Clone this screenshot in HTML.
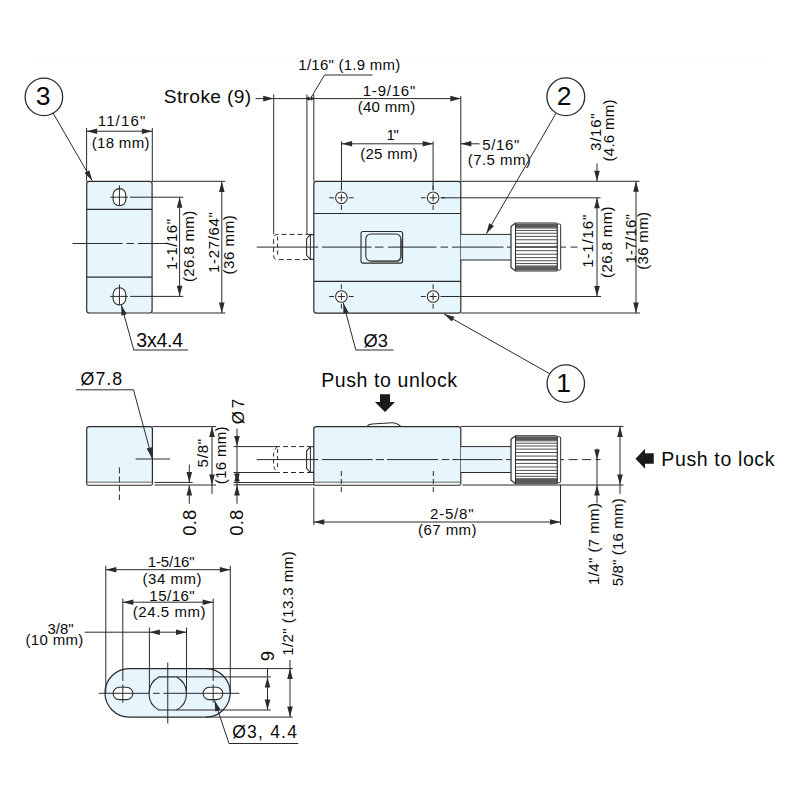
<!DOCTYPE html>
<html><head><meta charset="utf-8"><style>
html,body{margin:0;padding:0;background:#fff;width:800px;height:800px;overflow:hidden}
svg{display:block}
text{font-family:"Liberation Sans",sans-serif;fill:#0a0a0a}
</style></head><body>
<svg width="800" height="800" viewBox="0 0 800 800">
<rect width="800" height="800" fill="#fff"/>
<rect x="86.7" y="181.3" width="65.4" height="131.7" rx="2.5" fill="#e7f5fd" stroke="#2b2b2b" stroke-width="1.2"/>
<line x1="86.70" y1="209.30" x2="152.10" y2="209.30" stroke="#2b2b2b" stroke-width="1.2"/>
<line x1="86.70" y1="277.10" x2="152.10" y2="277.10" stroke="#2b2b2b" stroke-width="1.2"/>
<path d="M113.1,194.95 A6.35,6.35 0 0 1 125.8,194.95 V199.45 A6.35,6.35 0 0 1 113.1,199.45 Z" fill="#fff" stroke="#2b2b2b" stroke-width="1.1"/>
<line x1="119.45" y1="185.40" x2="119.45" y2="205.70" stroke="#2b2b2b" stroke-width="1.0"/>
<line x1="110.25" y1="197.20" x2="127.90" y2="197.20" stroke="#2b2b2b" stroke-width="1.0"/>
<line x1="130.00" y1="197.20" x2="183.30" y2="197.20" stroke="#2b2b2b" stroke-width="1.0"/>
<path d="M113.1,294.15 A6.35,6.35 0 0 1 125.8,294.15 V298.65 A6.35,6.35 0 0 1 113.1,298.65 Z" fill="#fff" stroke="#2b2b2b" stroke-width="1.1"/>
<line x1="119.45" y1="284.60" x2="119.45" y2="304.90" stroke="#2b2b2b" stroke-width="1.0"/>
<line x1="110.25" y1="296.40" x2="127.90" y2="296.40" stroke="#2b2b2b" stroke-width="1.0"/>
<line x1="130.00" y1="296.40" x2="183.30" y2="296.40" stroke="#2b2b2b" stroke-width="1.0"/>
<line x1="72.50" y1="243.50" x2="122.70" y2="243.50" stroke="#2b2b2b" stroke-width="1.0"/>
<line x1="126.50" y1="243.50" x2="134.00" y2="243.50" stroke="#2b2b2b" stroke-width="1.0"/>
<line x1="137.75" y1="243.50" x2="167.00" y2="243.50" stroke="#2b2b2b" stroke-width="1.0"/>
<line x1="86.60" y1="128.00" x2="86.60" y2="181.30" stroke="#2b2b2b" stroke-width="1.0"/>
<line x1="152.30" y1="128.00" x2="152.30" y2="181.30" stroke="#2b2b2b" stroke-width="1.0"/>
<line x1="86.60" y1="131.20" x2="152.30" y2="131.20" stroke="#2b2b2b" stroke-width="1.0"/>
<polygon points="86.60,131.20 97.10,128.40 97.10,134.00" fill="#2b2b2b"/>
<polygon points="152.30,131.20 141.80,134.00 141.80,128.40" fill="#2b2b2b"/>
<text x="121.50" y="125.50" font-size="15" text-anchor="middle" textLength="47.5" lengthAdjust="spacing">11/16&quot;</text>
<text x="120.60" y="147.50" font-size="15" text-anchor="middle" textLength="57.7" lengthAdjust="spacing">(18 mm)</text>
<line x1="179.60" y1="197.20" x2="179.60" y2="296.20" stroke="#2b2b2b" stroke-width="1.0"/>
<polygon points="179.60,197.20 182.40,207.70 176.80,207.70" fill="#2b2b2b"/>
<polygon points="179.60,296.20 176.80,285.70 182.40,285.70" fill="#2b2b2b"/>
<text transform="translate(176.50,244.50) rotate(-90)" x="0" y="0" font-size="15" text-anchor="middle" textLength="51" lengthAdjust="spacing">1-1/16&quot;</text>
<text transform="translate(193.80,246.40) rotate(-90)" x="0" y="0" font-size="15" text-anchor="middle" textLength="71.2" lengthAdjust="spacing">(26.8 mm)</text>
<line x1="152.10" y1="181.30" x2="225.30" y2="181.30" stroke="#2b2b2b" stroke-width="1.0"/>
<line x1="152.10" y1="313.00" x2="225.30" y2="313.00" stroke="#2b2b2b" stroke-width="1.0"/>
<line x1="221.80" y1="181.50" x2="221.80" y2="313.00" stroke="#2b2b2b" stroke-width="1.0"/>
<polygon points="221.80,181.50 224.60,192.00 219.00,192.00" fill="#2b2b2b"/>
<polygon points="221.80,313.00 219.00,302.50 224.60,302.50" fill="#2b2b2b"/>
<text transform="translate(218.50,242.60) rotate(-90)" x="0" y="0" font-size="15" text-anchor="middle" textLength="60.8" lengthAdjust="spacing">1-27/64&quot;</text>
<text transform="translate(234.30,244.90) rotate(-90)" x="0" y="0" font-size="15" text-anchor="middle" textLength="59.2" lengthAdjust="spacing">(36 mm)</text>
<circle cx="43.9" cy="96.9" r="18.75" fill="none" stroke="#2b2b2b" stroke-width="1.3"/>
<text x="43.20" y="104.70" font-size="26.5" text-anchor="middle">3</text>
<line x1="52.80" y1="112.60" x2="92.20" y2="180.70" stroke="#2b2b2b" stroke-width="1.0"/>
<polygon points="92.20,180.70 84.52,173.01 89.37,170.21" fill="#2b2b2b"/>
<line x1="121.30" y1="305.00" x2="133.80" y2="350.00" stroke="#2b2b2b" stroke-width="1.0"/>
<polygon points="121.30,305.00 126.81,314.37 121.41,315.87" fill="#2b2b2b"/>
<line x1="133.80" y1="350.00" x2="188.10" y2="350.00" stroke="#2b2b2b" stroke-width="1.0"/>
<text x="136.30" y="346.90" font-size="19.5" text-anchor="start" textLength="46.8" lengthAdjust="spacing">3x4.4</text>
<rect x="313.8" y="181.3" width="147" height="131.8" rx="2.5" fill="#e7f5fd" stroke="#2b2b2b" stroke-width="1.2"/>
<line x1="313.80" y1="213.50" x2="460.80" y2="213.50" stroke="#2b2b2b" stroke-width="1.2"/>
<line x1="313.80" y1="281.30" x2="460.80" y2="281.30" stroke="#2b2b2b" stroke-width="1.2"/>
<circle cx="341.4" cy="197.8" r="6.7" fill="#fff"/>
<circle cx="341.4" cy="197.8" r="5.8" fill="none" stroke="#2b2b2b" stroke-width="1.1"/>
<line x1="337.80" y1="197.80" x2="345.00" y2="197.80" stroke="#2b2b2b" stroke-width="1.0"/>
<line x1="341.40" y1="194.20" x2="341.40" y2="201.40" stroke="#2b2b2b" stroke-width="1.0"/>
<line x1="329.20" y1="197.80" x2="334.00" y2="197.80" stroke="#2b2b2b" stroke-width="1.0"/>
<line x1="348.80" y1="197.80" x2="353.60" y2="197.80" stroke="#2b2b2b" stroke-width="1.0"/>
<line x1="341.40" y1="185.60" x2="341.40" y2="190.40" stroke="#2b2b2b" stroke-width="1.0"/>
<line x1="341.40" y1="205.20" x2="341.40" y2="210.00" stroke="#2b2b2b" stroke-width="1.0"/>
<circle cx="341.4" cy="296.5" r="6.7" fill="#fff"/>
<circle cx="341.4" cy="296.5" r="5.8" fill="none" stroke="#2b2b2b" stroke-width="1.1"/>
<line x1="337.80" y1="296.50" x2="345.00" y2="296.50" stroke="#2b2b2b" stroke-width="1.0"/>
<line x1="341.40" y1="292.90" x2="341.40" y2="300.10" stroke="#2b2b2b" stroke-width="1.0"/>
<line x1="329.20" y1="296.50" x2="334.00" y2="296.50" stroke="#2b2b2b" stroke-width="1.0"/>
<line x1="348.80" y1="296.50" x2="353.60" y2="296.50" stroke="#2b2b2b" stroke-width="1.0"/>
<line x1="341.40" y1="284.30" x2="341.40" y2="289.10" stroke="#2b2b2b" stroke-width="1.0"/>
<line x1="341.40" y1="303.90" x2="341.40" y2="308.70" stroke="#2b2b2b" stroke-width="1.0"/>
<circle cx="433.1" cy="197.8" r="6.7" fill="#fff"/>
<circle cx="433.1" cy="197.8" r="5.8" fill="none" stroke="#2b2b2b" stroke-width="1.1"/>
<line x1="429.50" y1="197.80" x2="436.70" y2="197.80" stroke="#2b2b2b" stroke-width="1.0"/>
<line x1="433.10" y1="194.20" x2="433.10" y2="201.40" stroke="#2b2b2b" stroke-width="1.0"/>
<line x1="420.90" y1="197.80" x2="425.70" y2="197.80" stroke="#2b2b2b" stroke-width="1.0"/>
<line x1="440.50" y1="197.80" x2="445.30" y2="197.80" stroke="#2b2b2b" stroke-width="1.0"/>
<line x1="433.10" y1="185.60" x2="433.10" y2="190.40" stroke="#2b2b2b" stroke-width="1.0"/>
<line x1="433.10" y1="205.20" x2="433.10" y2="210.00" stroke="#2b2b2b" stroke-width="1.0"/>
<circle cx="433.1" cy="296.5" r="6.7" fill="#fff"/>
<circle cx="433.1" cy="296.5" r="5.8" fill="none" stroke="#2b2b2b" stroke-width="1.1"/>
<line x1="429.50" y1="296.50" x2="436.70" y2="296.50" stroke="#2b2b2b" stroke-width="1.0"/>
<line x1="433.10" y1="292.90" x2="433.10" y2="300.10" stroke="#2b2b2b" stroke-width="1.0"/>
<line x1="420.90" y1="296.50" x2="425.70" y2="296.50" stroke="#2b2b2b" stroke-width="1.0"/>
<line x1="440.50" y1="296.50" x2="445.30" y2="296.50" stroke="#2b2b2b" stroke-width="1.0"/>
<line x1="433.10" y1="284.30" x2="433.10" y2="289.10" stroke="#2b2b2b" stroke-width="1.0"/>
<line x1="433.10" y1="303.90" x2="433.10" y2="308.70" stroke="#2b2b2b" stroke-width="1.0"/>
<rect x="361" y="231.5" width="41.6" height="31.6" rx="2" fill="none" stroke="#2b2b2b" stroke-width="1.1"/>
<rect x="365.8" y="234" width="35" height="27" rx="5" fill="none" stroke="#2b2b2b" stroke-width="1.1"/>
<path d="M370.5,261.5 H396 Q400.8,261.5 401.2,256.5 V239" fill="none" stroke="#555" stroke-width="1.4"/>
<rect x="460.8" y="234.4" width="50.6" height="25.6" fill="#e7f5fd" stroke="none"/>
<line x1="460.80" y1="234.40" x2="511.40" y2="234.40" stroke="#2b2b2b" stroke-width="1.0"/>
<line x1="460.80" y1="260.00" x2="511.40" y2="260.00" stroke="#2b2b2b" stroke-width="1.0"/>
<line x1="256.75" y1="247.10" x2="318.25" y2="247.10" stroke="#2b2b2b" stroke-width="1.0"/>
<line x1="322.00" y1="247.10" x2="371.50" y2="247.10" stroke="#2b2b2b" stroke-width="1.0"/>
<line x1="375.00" y1="247.10" x2="383.50" y2="247.10" stroke="#2b2b2b" stroke-width="1.0"/>
<line x1="388.00" y1="247.10" x2="436.50" y2="247.10" stroke="#2b2b2b" stroke-width="1.0"/>
<line x1="440.50" y1="247.10" x2="448.00" y2="247.10" stroke="#2b2b2b" stroke-width="1.0"/>
<line x1="452.00" y1="247.10" x2="503.50" y2="247.10" stroke="#2b2b2b" stroke-width="1.0"/>
<line x1="507.00" y1="247.10" x2="512.00" y2="247.10" stroke="#2b2b2b" stroke-width="1.0"/>
<line x1="561.00" y1="247.10" x2="566.00" y2="247.10" stroke="#2b2b2b" stroke-width="1.0"/>
<line x1="570.50" y1="247.10" x2="577.50" y2="247.10" stroke="#2b2b2b" stroke-width="1.0"/>
<path d="M310.5,234.4 H277.5 Q273.6,234.4 273.6,238.4 V255.6 Q273.6,259.6 277.5,259.6 H310.5" fill="none" stroke="#2b2b2b" stroke-width="1" stroke-dasharray="5,3"/>
<path d="M313.8,234.6 H310.3 L306.6,238.6 V255.4 L310.3,259.4 H313.8" fill="none" stroke="#2b2b2b" stroke-width="1.1"/>
<line x1="310.40" y1="235.00" x2="310.40" y2="259.00" stroke="#2b2b2b" stroke-width="1.0"/>
<line x1="277.60" y1="236.50" x2="277.60" y2="257.50" stroke="#2b2b2b" stroke-width="1.0" stroke-dasharray="4,3"/>
<line x1="273.70" y1="94.50" x2="273.70" y2="234.40" stroke="#2b2b2b" stroke-width="1.0"/>
<line x1="306.90" y1="94.50" x2="306.90" y2="234.40" stroke="#2b2b2b" stroke-width="1.0"/>
<line x1="313.80" y1="94.50" x2="313.80" y2="181.30" stroke="#2b2b2b" stroke-width="1.0"/>
<line x1="460.80" y1="96.00" x2="460.80" y2="181.30" stroke="#2b2b2b" stroke-width="1.0"/>
<line x1="255.50" y1="98.60" x2="460.80" y2="98.60" stroke="#2b2b2b" stroke-width="1.0"/>
<polygon points="273.70,98.60 263.20,101.40 263.20,95.80" fill="#2b2b2b"/>
<polygon points="305.20,98.60 309.20,96.40 309.20,100.80" fill="#2b2b2b"/>
<polygon points="314.80,98.60 310.80,100.80 310.80,96.40" fill="#2b2b2b"/>
<polygon points="311.50,98.80 308.50,100.60 308.50,97.00" fill="#2b2b2b"/>
<polygon points="460.80,98.60 450.30,101.40 450.30,95.80" fill="#2b2b2b"/>
<text x="207.50" y="102.50" font-size="19.2" text-anchor="middle" textLength="87.5" lengthAdjust="spacing">Stroke (9)</text>
<line x1="311.00" y1="97.70" x2="324.50" y2="75.00" stroke="#2b2b2b" stroke-width="1.0"/>
<line x1="324.50" y1="75.00" x2="372.50" y2="75.00" stroke="#2b2b2b" stroke-width="1.0"/>
<text x="349.30" y="70.00" font-size="15" text-anchor="middle" textLength="102" lengthAdjust="spacing">1/16&quot; (1.9 mm)</text>
<text x="389.00" y="95.80" font-size="15" text-anchor="middle" textLength="52.5" lengthAdjust="spacing">1-9/16&quot;</text>
<text x="386.50" y="112.00" font-size="15" text-anchor="middle" textLength="57.7" lengthAdjust="spacing">(40 mm)</text>
<line x1="341.50" y1="141.30" x2="341.50" y2="190.00" stroke="#2b2b2b" stroke-width="1.0"/>
<line x1="433.10" y1="141.30" x2="433.10" y2="190.00" stroke="#2b2b2b" stroke-width="1.0"/>
<line x1="341.60" y1="143.80" x2="433.10" y2="143.80" stroke="#2b2b2b" stroke-width="1.0"/>
<polygon points="341.60,143.80 352.10,141.00 352.10,146.60" fill="#2b2b2b"/>
<polygon points="433.10,143.80 422.60,146.60 422.60,141.00" fill="#2b2b2b"/>
<text x="392.60" y="140.40" font-size="15" text-anchor="middle" textLength="12.4" lengthAdjust="spacing">1&quot;</text>
<text x="389.00" y="158.70" font-size="15" text-anchor="middle" textLength="57.7" lengthAdjust="spacing">(25 mm)</text>
<line x1="460.80" y1="143.80" x2="479.60" y2="143.80" stroke="#2b2b2b" stroke-width="1.0"/>
<polygon points="460.80,143.80 471.30,141.00 471.30,146.60" fill="#2b2b2b"/>
<text x="500.80" y="150.30" font-size="15" text-anchor="middle" textLength="37.3" lengthAdjust="spacing">5/16&quot;</text>
<text x="499.30" y="164.50" font-size="15" text-anchor="middle" textLength="63" lengthAdjust="spacing">(7.5 mm)</text>
<path d="M511,226.5 L515.5,223 H556 Q557.5,223 557.5,225 V269 Q557.5,271 556,271 H515.5 L511,267.5 Z" fill="#fff" stroke="#2b2b2b" stroke-width="1.2"/>
<line x1="515.50" y1="224.75" x2="557.00" y2="224.75" stroke="#505050" stroke-width="1.0"/>
<line x1="515.50" y1="226.15" x2="557.00" y2="226.15" stroke="#505050" stroke-width="1.0"/>
<line x1="515.50" y1="228.07" x2="557.00" y2="228.07" stroke="#505050" stroke-width="1.0"/>
<line x1="515.50" y1="230.45" x2="557.00" y2="230.45" stroke="#505050" stroke-width="1.0"/>
<line x1="515.50" y1="233.25" x2="557.00" y2="233.25" stroke="#505050" stroke-width="1.0"/>
<line x1="515.50" y1="236.38" x2="557.00" y2="236.38" stroke="#505050" stroke-width="1.0"/>
<line x1="515.50" y1="239.77" x2="557.00" y2="239.77" stroke="#505050" stroke-width="1.0"/>
<line x1="515.50" y1="243.34" x2="557.00" y2="243.34" stroke="#505050" stroke-width="1.0"/>
<line x1="515.50" y1="247.00" x2="557.00" y2="247.00" stroke="#505050" stroke-width="1.0"/>
<line x1="515.50" y1="250.66" x2="557.00" y2="250.66" stroke="#505050" stroke-width="1.0"/>
<line x1="515.50" y1="254.23" x2="557.00" y2="254.23" stroke="#505050" stroke-width="1.0"/>
<line x1="515.50" y1="257.62" x2="557.00" y2="257.62" stroke="#505050" stroke-width="1.0"/>
<line x1="515.50" y1="260.75" x2="557.00" y2="260.75" stroke="#505050" stroke-width="1.0"/>
<line x1="515.50" y1="263.55" x2="557.00" y2="263.55" stroke="#505050" stroke-width="1.0"/>
<line x1="515.50" y1="265.93" x2="557.00" y2="265.93" stroke="#505050" stroke-width="1.0"/>
<line x1="515.50" y1="267.85" x2="557.00" y2="267.85" stroke="#505050" stroke-width="1.0"/>
<line x1="515.50" y1="269.25" x2="557.00" y2="269.25" stroke="#505050" stroke-width="1.0"/>
<rect x="515.5" y="223.6" width="41.5" height="4.2" fill="#5a5a5a"/>
<rect x="515.5" y="266.2" width="41.5" height="4.2" fill="#5a5a5a"/>
<line x1="515.50" y1="247.00" x2="557.00" y2="247.00" stroke="#444" stroke-width="1.6"/>
<line x1="515.50" y1="223.00" x2="515.50" y2="271.00" stroke="#2b2b2b" stroke-width="1"/>
<rect x="557.3" y="224" width="3.4" height="46" rx="1.2" fill="#fff" stroke="#2b2b2b" stroke-width="1"/>
<circle cx="565.8" cy="96.8" r="18.9" fill="none" stroke="#2b2b2b" stroke-width="1.3"/>
<text x="564.20" y="105.40" font-size="26.5" text-anchor="middle">2</text>
<line x1="556.00" y1="113.30" x2="486.30" y2="233.70" stroke="#2b2b2b" stroke-width="1.0"/>
<polygon points="486.30,233.70 489.14,223.21 493.98,226.02" fill="#2b2b2b"/>
<circle cx="565.8" cy="383.6" r="18.75" fill="none" stroke="#2b2b2b" stroke-width="1.3"/>
<text x="563.50" y="392.00" font-size="26.5" text-anchor="middle">1</text>
<line x1="549.40" y1="373.60" x2="444.00" y2="314.00" stroke="#2b2b2b" stroke-width="1.0"/>
<polygon points="444.00,314.00 454.52,316.73 451.76,321.61" fill="#2b2b2b"/>
<line x1="460.80" y1="181.30" x2="639.50" y2="181.30" stroke="#2b2b2b" stroke-width="1.0"/>
<line x1="441.00" y1="197.80" x2="600.50" y2="197.80" stroke="#2b2b2b" stroke-width="1.0"/>
<line x1="441.00" y1="296.50" x2="601.00" y2="296.50" stroke="#2b2b2b" stroke-width="1.0"/>
<line x1="460.80" y1="313.00" x2="640.00" y2="313.00" stroke="#2b2b2b" stroke-width="1.0"/>
<line x1="597.00" y1="163.50" x2="597.00" y2="181.30" stroke="#2b2b2b" stroke-width="1.0"/>
<polygon points="597.00,181.30 594.20,170.80 599.80,170.80" fill="#2b2b2b"/>
<line x1="597.00" y1="197.70" x2="597.00" y2="296.40" stroke="#2b2b2b" stroke-width="1.0"/>
<polygon points="597.00,197.70 599.80,208.20 594.20,208.20" fill="#2b2b2b"/>
<polygon points="597.00,296.40 594.20,285.90 599.80,285.90" fill="#2b2b2b"/>
<line x1="636.00" y1="181.30" x2="636.00" y2="313.00" stroke="#2b2b2b" stroke-width="1.0"/>
<polygon points="636.00,181.30 638.80,191.80 633.20,191.80" fill="#2b2b2b"/>
<polygon points="636.00,313.00 633.20,302.50 638.80,302.50" fill="#2b2b2b"/>
<text transform="translate(601.20,132.20) rotate(-90)" x="0" y="0" font-size="15" text-anchor="middle" textLength="37.5" lengthAdjust="spacing">3/16&quot;</text>
<text transform="translate(614.00,130.50) rotate(-90)" x="0" y="0" font-size="15" text-anchor="middle" textLength="62" lengthAdjust="spacing">(4.6 mm)</text>
<text transform="translate(592.90,241.20) rotate(-90)" x="0" y="0" font-size="15" text-anchor="middle" textLength="53" lengthAdjust="spacing">1-1/16&quot;</text>
<text transform="translate(612.30,242.20) rotate(-90)" x="0" y="0" font-size="15" text-anchor="middle" textLength="71.5" lengthAdjust="spacing">(26.8 mm)</text>
<text transform="translate(635.60,238.80) rotate(-90)" x="0" y="0" font-size="15" text-anchor="middle" textLength="49.5" lengthAdjust="spacing">1-7/16&quot;</text>
<text transform="translate(648.20,240.90) rotate(-90)" x="0" y="0" font-size="15" text-anchor="middle" textLength="57.8" lengthAdjust="spacing">(36 mm)</text>
<line x1="343.30" y1="303.00" x2="355.80" y2="350.00" stroke="#2b2b2b" stroke-width="1.0"/>
<polygon points="343.30,303.00 348.70,312.43 343.29,313.87" fill="#2b2b2b"/>
<line x1="355.80" y1="350.00" x2="393.60" y2="350.00" stroke="#2b2b2b" stroke-width="1.0"/>
<text x="363.40" y="347.40" font-size="18.3" text-anchor="start" textLength="24.6" lengthAdjust="spacing">&#216;3</text>
<text x="321.20" y="387.00" font-size="19.5" text-anchor="start" textLength="135.8" lengthAdjust="spacing">Push to unlock</text>
<polygon points="380,394.2 390,394.2 390,402 395,402 385,412 375,402 380,402" fill="#1a1a1a"/>
<path d="M86.7,482.4 V429.1 Q86.7,426.6 89.2,426.6 H149.9 Q152.4,426.6 152.4,429.1 V482.4 Z" fill="#e7f5fd" stroke="#2b2b2b" stroke-width="1.2"/>
<path d="M86.7,482.4 V483.8 Q86.7,485.2 88,485.2 H151.1 Q152.4,485.2 152.4,483.8 V482.4" fill="#fff" stroke="#2b2b2b" stroke-width="1.1"/>
<line x1="152.40" y1="426.60" x2="216.00" y2="426.60" stroke="#2b2b2b" stroke-width="1.0"/>
<line x1="154.40" y1="482.40" x2="192.60" y2="482.40" stroke="#2b2b2b" stroke-width="1.0"/>
<line x1="154.40" y1="485.00" x2="216.00" y2="485.00" stroke="#2b2b2b" stroke-width="1.0"/>
<line x1="212.00" y1="426.60" x2="212.00" y2="494.00" stroke="#2b2b2b" stroke-width="1.0"/>
<polygon points="212.00,426.60 214.80,437.10 209.20,437.10" fill="#2b2b2b"/>
<polygon points="212.00,485.00 209.20,474.50 214.80,474.50" fill="#2b2b2b"/>
<line x1="189.30" y1="464.50" x2="189.30" y2="482.40" stroke="#2b2b2b" stroke-width="1.0"/>
<polygon points="189.30,482.40 186.50,471.90 192.10,471.90" fill="#2b2b2b"/>
<line x1="189.30" y1="485.00" x2="189.30" y2="503.70" stroke="#2b2b2b" stroke-width="1.0"/>
<polygon points="189.30,485.00 192.10,495.50 186.50,495.50" fill="#2b2b2b"/>
<line x1="135.60" y1="459.00" x2="170.00" y2="459.00" stroke="#2b2b2b" stroke-width="1.0"/>
<line x1="119.40" y1="467.40" x2="119.40" y2="500.00" stroke="#2b2b2b" stroke-width="1.0" stroke-dasharray="6,3"/>
<line x1="75.75" y1="389.80" x2="133.50" y2="389.80" stroke="#2b2b2b" stroke-width="1.0"/>
<line x1="133.50" y1="389.80" x2="152.00" y2="458.00" stroke="#2b2b2b" stroke-width="1.0"/>
<polygon points="152.00,458.00 146.55,448.60 151.95,447.13" fill="#2b2b2b"/>
<text x="80.60" y="385.00" font-size="17.8" text-anchor="start" textLength="41.5" lengthAdjust="spacing">&#216;7.8</text>
<text transform="translate(207.80,453.20) rotate(-90)" x="0" y="0" font-size="15" text-anchor="middle" textLength="28.8" lengthAdjust="spacing">5/8&quot;</text>
<text transform="translate(226.40,455.30) rotate(-90)" x="0" y="0" font-size="15" text-anchor="middle" textLength="57.7" lengthAdjust="spacing">(16 mm)</text>
<text transform="translate(195.60,522.80) rotate(-90)" x="0" y="0" font-size="18.5" text-anchor="middle" textLength="26" lengthAdjust="spacing">0.8</text>
<text transform="translate(243.10,522.80) rotate(-90)" x="0" y="0" font-size="18.5" text-anchor="middle" textLength="26" lengthAdjust="spacing">0.8</text>
<text transform="translate(243.90,411.50) rotate(-90)" x="0" y="0" font-size="17" text-anchor="middle" textLength="25.7" lengthAdjust="spacing">&#216; 7</text>
<line x1="237.00" y1="428.50" x2="237.00" y2="503.70" stroke="#2b2b2b" stroke-width="1.0"/>
<polygon points="237.00,446.60 234.20,436.10 239.80,436.10" fill="#2b2b2b"/>
<polygon points="237.00,472.40 239.80,481.40 234.20,481.40" fill="#2b2b2b"/>
<polygon points="237.00,482.50 234.20,473.50 239.80,473.50" fill="#2b2b2b"/>
<polygon points="237.00,485.00 239.80,495.50 234.20,495.50" fill="#2b2b2b"/>
<line x1="233.60" y1="446.60" x2="275.00" y2="446.60" stroke="#2b2b2b" stroke-width="1.0"/>
<line x1="233.60" y1="472.50" x2="275.00" y2="472.50" stroke="#2b2b2b" stroke-width="1.0"/>
<line x1="275.00" y1="446.60" x2="311.00" y2="446.60" stroke="#2b2b2b" stroke-width="1.0" stroke-dasharray="5,3"/>
<line x1="275.00" y1="472.50" x2="311.00" y2="472.50" stroke="#2b2b2b" stroke-width="1.0" stroke-dasharray="5,3"/>
<line x1="233.60" y1="482.50" x2="313.80" y2="482.50" stroke="#2b2b2b" stroke-width="1.0"/>
<line x1="233.60" y1="484.80" x2="313.80" y2="484.80" stroke="#2b2b2b" stroke-width="1.0"/>
<path d="M277.5,446.6 Q273.6,450 273.6,455 V464 Q273.6,469 277.5,472.5" fill="none" stroke="#2b2b2b" stroke-width="1" stroke-dasharray="4,3"/>
<line x1="277.60" y1="449.00" x2="277.60" y2="470.00" stroke="#2b2b2b" stroke-width="1.0" stroke-dasharray="4,3"/>
<path d="M366.6,426.8 Q368.5,424.2 372,424 L392,422.7 Q396,422.6 398.5,424.6 L401.2,426.8" fill="#fff" stroke="#2b2b2b" stroke-width="1.1"/>
<path d="M313.8,482.4 V429.1 Q313.8,426.6 316.3,426.6 H458.3 Q460.8,426.6 460.8,429.1 V482.4 Z" fill="#e7f5fd" stroke="#2b2b2b" stroke-width="1.2"/>
<path d="M313.8,482.4 V483.8 Q313.8,485.2 315.1,485.2 H459.5 Q460.8,485.2 460.8,483.8 V482.4" fill="#fff" stroke="#2b2b2b" stroke-width="1.1"/>
<path d="M313.8,446.8 H310.3 L306.6,450.8 V468.4 L310.3,472.4 H313.8" fill="none" stroke="#2b2b2b" stroke-width="1.1"/>
<line x1="310.40" y1="447.20" x2="310.40" y2="472.00" stroke="#2b2b2b" stroke-width="1.0"/>
<rect x="460.8" y="446.6" width="50.6" height="25.9" fill="#e7f5fd" stroke="none"/>
<line x1="460.80" y1="446.60" x2="511.40" y2="446.60" stroke="#2b2b2b" stroke-width="1.0"/>
<line x1="460.80" y1="472.50" x2="511.40" y2="472.50" stroke="#2b2b2b" stroke-width="1.0"/>
<line x1="256.75" y1="459.60" x2="318.25" y2="459.60" stroke="#2b2b2b" stroke-width="1.0"/>
<line x1="322.00" y1="459.60" x2="372.75" y2="459.60" stroke="#2b2b2b" stroke-width="1.0"/>
<line x1="375.75" y1="459.60" x2="384.00" y2="459.60" stroke="#2b2b2b" stroke-width="1.0"/>
<line x1="387.00" y1="459.60" x2="438.00" y2="459.60" stroke="#2b2b2b" stroke-width="1.0"/>
<line x1="441.75" y1="459.60" x2="449.25" y2="459.60" stroke="#2b2b2b" stroke-width="1.0"/>
<line x1="452.25" y1="459.60" x2="502.50" y2="459.60" stroke="#2b2b2b" stroke-width="1.0"/>
<line x1="506.00" y1="459.60" x2="512.00" y2="459.60" stroke="#2b2b2b" stroke-width="1.0"/>
<line x1="559.00" y1="459.60" x2="564.00" y2="459.60" stroke="#2b2b2b" stroke-width="1.0"/>
<line x1="568.50" y1="459.60" x2="577.50" y2="459.60" stroke="#2b2b2b" stroke-width="1.0"/>
<line x1="582.00" y1="459.60" x2="591.00" y2="459.60" stroke="#2b2b2b" stroke-width="1.0"/>
<line x1="595.50" y1="459.60" x2="600.50" y2="459.60" stroke="#2b2b2b" stroke-width="1.0"/>
<line x1="341.30" y1="471.00" x2="341.30" y2="495.00" stroke="#2b2b2b" stroke-width="1.0" stroke-dasharray="5,3"/>
<line x1="433.30" y1="471.00" x2="433.30" y2="495.00" stroke="#2b2b2b" stroke-width="1.0" stroke-dasharray="5,3"/>
<path d="M511,439.25 L515.5,435.75 H556 Q557.5,435.75 557.5,437.75 V481.75 Q557.5,483.75 556,483.75 H515.5 L511,480.25 Z" fill="#fff" stroke="#2b2b2b" stroke-width="1.2"/>
<line x1="515.50" y1="437.50" x2="557.00" y2="437.50" stroke="#505050" stroke-width="1.0"/>
<line x1="515.50" y1="438.90" x2="557.00" y2="438.90" stroke="#505050" stroke-width="1.0"/>
<line x1="515.50" y1="440.82" x2="557.00" y2="440.82" stroke="#505050" stroke-width="1.0"/>
<line x1="515.50" y1="443.20" x2="557.00" y2="443.20" stroke="#505050" stroke-width="1.0"/>
<line x1="515.50" y1="446.00" x2="557.00" y2="446.00" stroke="#505050" stroke-width="1.0"/>
<line x1="515.50" y1="449.13" x2="557.00" y2="449.13" stroke="#505050" stroke-width="1.0"/>
<line x1="515.50" y1="452.52" x2="557.00" y2="452.52" stroke="#505050" stroke-width="1.0"/>
<line x1="515.50" y1="456.09" x2="557.00" y2="456.09" stroke="#505050" stroke-width="1.0"/>
<line x1="515.50" y1="459.75" x2="557.00" y2="459.75" stroke="#505050" stroke-width="1.0"/>
<line x1="515.50" y1="463.41" x2="557.00" y2="463.41" stroke="#505050" stroke-width="1.0"/>
<line x1="515.50" y1="466.98" x2="557.00" y2="466.98" stroke="#505050" stroke-width="1.0"/>
<line x1="515.50" y1="470.37" x2="557.00" y2="470.37" stroke="#505050" stroke-width="1.0"/>
<line x1="515.50" y1="473.50" x2="557.00" y2="473.50" stroke="#505050" stroke-width="1.0"/>
<line x1="515.50" y1="476.30" x2="557.00" y2="476.30" stroke="#505050" stroke-width="1.0"/>
<line x1="515.50" y1="478.68" x2="557.00" y2="478.68" stroke="#505050" stroke-width="1.0"/>
<line x1="515.50" y1="480.60" x2="557.00" y2="480.60" stroke="#505050" stroke-width="1.0"/>
<line x1="515.50" y1="482.00" x2="557.00" y2="482.00" stroke="#505050" stroke-width="1.0"/>
<rect x="515.5" y="436.35" width="41.5" height="4.2" fill="#5a5a5a"/>
<rect x="515.5" y="478.95" width="41.5" height="4.2" fill="#5a5a5a"/>
<line x1="515.50" y1="459.75" x2="557.00" y2="459.75" stroke="#444" stroke-width="1.6"/>
<line x1="515.50" y1="435.75" x2="515.50" y2="483.75" stroke="#2b2b2b" stroke-width="1"/>
<rect x="557.3" y="436.75" width="3.4" height="46" rx="1.2" fill="#fff" stroke="#2b2b2b" stroke-width="1"/>
<line x1="460.80" y1="426.40" x2="623.50" y2="426.40" stroke="#2b2b2b" stroke-width="1.0"/>
<line x1="462.50" y1="485.00" x2="623.50" y2="485.00" stroke="#2b2b2b" stroke-width="1.0"/>
<line x1="313.80" y1="487.50" x2="313.80" y2="525.00" stroke="#2b2b2b" stroke-width="1.0"/>
<line x1="560.50" y1="485.00" x2="560.50" y2="525.00" stroke="#2b2b2b" stroke-width="1.0"/>
<line x1="313.80" y1="522.00" x2="560.50" y2="522.00" stroke="#2b2b2b" stroke-width="1.0"/>
<polygon points="313.80,522.00 324.30,519.20 324.30,524.80" fill="#2b2b2b"/>
<polygon points="560.50,522.00 550.00,524.80 550.00,519.20" fill="#2b2b2b"/>
<text x="451.80" y="519.40" font-size="15" text-anchor="middle" textLength="43.5" lengthAdjust="spacing">2-5/8&quot;</text>
<text x="447.30" y="535.00" font-size="15" text-anchor="middle" textLength="58.5" lengthAdjust="spacing">(67 mm)</text>
<line x1="597.00" y1="448.50" x2="597.00" y2="503.50" stroke="#2b2b2b" stroke-width="1.0"/>
<polygon points="597.00,459.50 594.20,449.50 599.80,449.50" fill="#2b2b2b"/>
<polygon points="597.00,485.00 599.80,495.50 594.20,495.50" fill="#2b2b2b"/>
<line x1="620.00" y1="426.40" x2="620.00" y2="494.00" stroke="#2b2b2b" stroke-width="1.0"/>
<polygon points="620.00,426.40 622.80,436.90 617.20,436.90" fill="#2b2b2b"/>
<polygon points="620.00,485.00 617.20,474.50 622.80,474.50" fill="#2b2b2b"/>
<text transform="translate(598.80,544.00) rotate(-90)" x="0" y="0" font-size="15" text-anchor="middle" textLength="82" lengthAdjust="spacing">1/4&quot; (7 mm)</text>
<text transform="translate(623.00,542.30) rotate(-90)" x="0" y="0" font-size="15" text-anchor="middle" textLength="88" lengthAdjust="spacing">5/8&quot; (16 mm)</text>
<polygon points="635.5,458.75 645,448.75 645,453.25 653.75,453.25 653.75,463.75 645,463.75 645,468.75" fill="#1a1a1a"/>
<text x="661.30" y="466.30" font-size="19.5" text-anchor="start" textLength="113.2" lengthAdjust="spacing">Push to lock</text>
<path d="M129.2,668.6 H206 A24.25,24.25 0 0 1 206,717.1 H129.2 A24.25,24.25 0 0 1 129.2,668.6 Z" fill="#e7f5fd" stroke="#2b2b2b" stroke-width="1.2"/>
<path d="M119.30,687.20 H126.60 A6.2,6.2 0 0 1 126.60,699.60 H119.30 A6.2,6.2 0 0 1 119.30,687.20 Z" fill="#fff" stroke="#2b2b2b" stroke-width="1.1"/>
<path d="M209.30,687.20 H216.60 A6.2,6.2 0 0 1 216.60,699.60 H209.30 A6.2,6.2 0 0 1 209.30,687.20 Z" fill="#fff" stroke="#2b2b2b" stroke-width="1.1"/>
<path d="M158.94,676.9000000000001 H176.56 A18.75,18.75 0 0 1 176.56,710.0 H158.94 A18.75,18.75 0 0 1 158.94,676.9000000000001 Z" fill="none" stroke="#2b2b2b" stroke-width="1.1"/>
<line x1="176.56" y1="676.90" x2="270.80" y2="676.90" stroke="#2b2b2b" stroke-width="1.0"/>
<line x1="176.56" y1="710.00" x2="270.80" y2="710.00" stroke="#2b2b2b" stroke-width="1.0"/>
<line x1="206.00" y1="668.60" x2="292.80" y2="668.60" stroke="#2b2b2b" stroke-width="1.0"/>
<line x1="206.00" y1="717.10" x2="292.80" y2="717.10" stroke="#2b2b2b" stroke-width="1.0"/>
<line x1="98.75" y1="693.30" x2="149.40" y2="693.30" stroke="#2b2b2b" stroke-width="1.0"/>
<line x1="153.00" y1="693.30" x2="159.70" y2="693.30" stroke="#2b2b2b" stroke-width="1.0"/>
<line x1="163.50" y1="693.30" x2="239.40" y2="693.30" stroke="#2b2b2b" stroke-width="1.0"/>
<line x1="167.75" y1="662.50" x2="167.75" y2="723.50" stroke="#2b2b2b" stroke-width="1.0"/>
<line x1="122.80" y1="598.60" x2="122.80" y2="681.00" stroke="#2b2b2b" stroke-width="1.0"/>
<line x1="122.80" y1="684.40" x2="122.80" y2="702.70" stroke="#2b2b2b" stroke-width="1.0"/>
<line x1="213.20" y1="598.60" x2="213.20" y2="681.00" stroke="#2b2b2b" stroke-width="1.0"/>
<line x1="213.20" y1="684.40" x2="213.20" y2="702.70" stroke="#2b2b2b" stroke-width="1.0"/>
<line x1="105.80" y1="565.60" x2="105.80" y2="693.00" stroke="#2b2b2b" stroke-width="1.0"/>
<line x1="230.30" y1="565.60" x2="230.30" y2="693.00" stroke="#2b2b2b" stroke-width="1.0"/>
<line x1="149.40" y1="627.50" x2="149.40" y2="693.00" stroke="#2b2b2b" stroke-width="1.0"/>
<line x1="186.50" y1="627.50" x2="186.50" y2="693.00" stroke="#2b2b2b" stroke-width="1.0"/>
<line x1="105.80" y1="569.70" x2="230.30" y2="569.70" stroke="#2b2b2b" stroke-width="1.0"/>
<polygon points="105.80,569.70 116.30,566.90 116.30,572.50" fill="#2b2b2b"/>
<polygon points="230.30,569.70 219.80,572.50 219.80,566.90" fill="#2b2b2b"/>
<line x1="122.80" y1="602.20" x2="213.20" y2="602.20" stroke="#2b2b2b" stroke-width="1.0"/>
<polygon points="122.80,602.20 133.30,599.40 133.30,605.00" fill="#2b2b2b"/>
<polygon points="213.20,602.20 202.70,605.00 202.70,599.40" fill="#2b2b2b"/>
<line x1="84.60" y1="632.20" x2="149.40" y2="632.20" stroke="#2b2b2b" stroke-width="1.0"/>
<line x1="149.40" y1="632.20" x2="186.50" y2="632.20" stroke="#2b2b2b" stroke-width="1.0"/>
<polygon points="149.40,632.20 159.90,629.40 159.90,635.00" fill="#2b2b2b"/>
<polygon points="186.50,632.20 176.00,635.00 176.00,629.40" fill="#2b2b2b"/>
<text x="171.20" y="566.50" font-size="15" text-anchor="middle" textLength="46.7" lengthAdjust="spacing">1-5/16&quot;</text>
<text x="172.00" y="583.50" font-size="15" text-anchor="middle" textLength="59" lengthAdjust="spacing">(34 mm)</text>
<text x="172.00" y="601.40" font-size="15" text-anchor="middle" textLength="45.3" lengthAdjust="spacing">15/16&quot;</text>
<text x="169.20" y="616.50" font-size="15" text-anchor="middle" textLength="72.8" lengthAdjust="spacing">(24.5 mm)</text>
<text x="60.50" y="634.40" font-size="15" text-anchor="middle" textLength="26.1" lengthAdjust="spacing">3/8&quot;</text>
<text x="54.40" y="645.40" font-size="15" text-anchor="middle" textLength="57.7" lengthAdjust="spacing">(10 mm)</text>
<line x1="267.50" y1="676.90" x2="267.50" y2="710.00" stroke="#2b2b2b" stroke-width="1.0"/>
<polygon points="267.50,676.90 270.30,687.40 264.70,687.40" fill="#2b2b2b"/>
<polygon points="267.50,710.00 264.70,699.50 270.30,699.50" fill="#2b2b2b"/>
<line x1="290.00" y1="668.60" x2="290.00" y2="717.10" stroke="#2b2b2b" stroke-width="1.0"/>
<polygon points="290.00,668.60 292.80,679.10 287.20,679.10" fill="#2b2b2b"/>
<polygon points="290.00,717.10 287.20,706.60 292.80,706.60" fill="#2b2b2b"/>
<line x1="290.00" y1="660.00" x2="290.00" y2="668.60" stroke="#2b2b2b" stroke-width="1.0"/>
<line x1="267.50" y1="668.60" x2="267.50" y2="676.45" stroke="#2b2b2b" stroke-width="1.0"/>
<text transform="translate(273.80,656.20) rotate(-90)" x="0" y="0" font-size="18.5" text-anchor="middle">9</text>
<text transform="translate(292.60,603.60) rotate(-90)" x="0" y="0" font-size="15" text-anchor="middle" textLength="104.5" lengthAdjust="spacing">1/2&quot; (13.3 mm)</text>
<line x1="214.60" y1="700.60" x2="229.00" y2="743.50" stroke="#2b2b2b" stroke-width="1.0"/>
<polygon points="214.60,700.60 220.60,709.66 215.29,711.45" fill="#2b2b2b"/>
<line x1="229.00" y1="743.50" x2="298.30" y2="743.50" stroke="#2b2b2b" stroke-width="1.0"/>
<text x="232.20" y="737.50" font-size="17.5" text-anchor="start" textLength="64.7" lengthAdjust="spacing">&#216;3, 4.4</text>
<line x1="37.00" y1="57.50" x2="765.00" y2="57.50" stroke="#eeeeee" stroke-width="1" stroke-dasharray="1,3"/>
</svg></body></html>
